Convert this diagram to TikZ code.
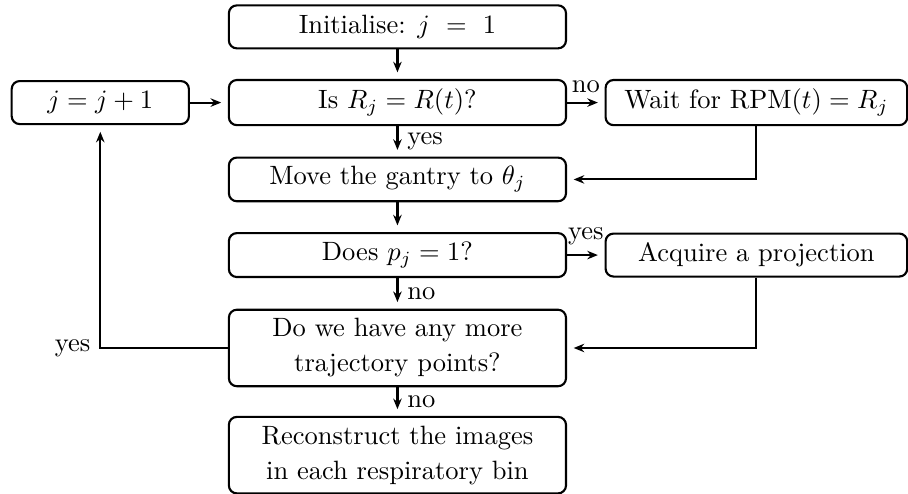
\documentclass[tikz,border=0pt]{standalone}
\usepackage{amsmath}
\usetikzlibrary{arrows.meta}

\begin{document}
\begin{tikzpicture}[
	box/.style={draw, thick, rounded corners=3pt, align=center,
		minimum height=0.57cm, font=\linespread{1.1}\selectfont},
	mainbox/.style={box, minimum width=4.47cm},
	sidebox/.style={box, minimum width=4.0cm},
	flow/.style={thick, -{Stealth[length=4pt,width=3.2pt]}, shorten >=2.5pt},
	]

	% page frame
	\useasboundingbox (0,0) rectangle (12.04,-6.54);

	% main column
	\node[mainbox] (init) at (5.27,-0.356) {Initialise: $j\ =\ 1$};
	\node[mainbox] (is)   at (5.27,-1.360) {Is $R_j = R(t)$?};
	\node[mainbox] (move) at (5.27,-2.379) {Move the gantry to $\theta_j$};
	\node[mainbox] (does) at (5.27,-3.382) {Does $p_j = 1$?};
	\node[mainbox] (more) at (5.27,-4.614) {Do we have any more\\trajectory points?};
	\node[mainbox] (recon) at (5.27,-6.035) {Reconstruct the images\\in each respiratory bin};

	% side boxes
	\node[box, minimum width=2.35cm] (inc) at (1.33,-1.360) {$j = j + 1$};
	\node[sidebox] (wait) at (10.03,-1.360) {Wait for RPM$(t) = R_j$};
	\node[sidebox] (acq)  at (10.03,-3.382) {Acquire a projection};

	% straight down the column
	\draw[flow] (init) -- (is);
	\draw[flow] (is) -- node[right] (isyes) {yes} (move);
	\draw[flow] (move) -- (does);
	\draw[flow] (does) -- node[right] (doesno) {no} (more);
	\draw[flow] (more) -- node[right] (moreno) {no} (recon);

	% branches to the right
	\draw[flow] (is) -- node[above] (isno) {no} (wait);
	\draw[flow] (wait) |- (move);
	\draw[flow] (does) -- node[above] (doesyes) {yes} (acq);
	\draw[flow] (acq) |- (more);

	% loop back to the increment
	\draw[flow] (more) -| node[pos=0.5, left] (moreyes) {yes} (inc);
	\draw[flow] (inc) -- (is);

\end{tikzpicture}
\end{document}
